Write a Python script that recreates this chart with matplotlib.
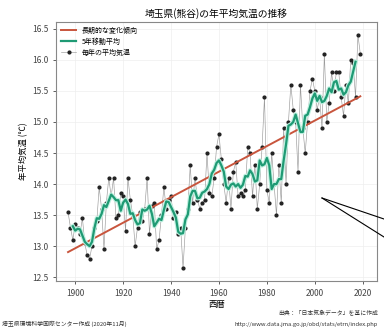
import matplotlib
matplotlib.use("Agg")
import matplotlib.pyplot as plt
from matplotlib.lines import Line2D
import numpy as np
import pandas as pd

plt.rcParams['font.family'] = ['Noto Sans CJK JP', 'DejaVu Sans']

# 熊谷の年平均気温 (1897-2019) 図から読み取り
years = np.arange(1897, 2020)
temps = [
    13.55, 13.30, 13.10,                                                      # 1897-1899
    13.35, 13.30, 13.20, 13.45, 13.05, 12.85, 12.80, 13.00, 13.30, 13.40,     # 1900s
    13.95, 13.60, 12.95, 13.70, 14.10, 13.80, 14.10, 13.45, 13.50, 13.85,     # 1910s
    13.80, 13.25, 14.10, 13.75, 13.50, 13.00, 13.30, 13.55, 13.40, 13.60,     # 1920s
    14.10, 13.20, 13.65, 13.70, 12.95, 13.10, 13.50, 13.95, 13.60, 13.75,     # 1930s
    13.80, 13.45, 13.55, 13.20, 13.30, 12.65, 13.30, 13.60, 14.30, 13.70,     # 1940s
    14.10, 13.75, 13.60, 13.70, 13.75, 14.50, 13.85, 13.80, 14.10, 14.60,     # 1950s
    14.80, 14.40, 14.00, 13.70, 14.10, 13.60, 14.20, 14.35, 13.80, 13.85,     # 1960s
    13.80, 13.90, 14.60, 14.50, 13.80, 14.30, 13.60, 14.00, 14.60, 15.40,     # 1970s
    13.90, 13.70, 14.50, 14.00, 13.50, 14.30, 13.70, 14.90, 14.00, 15.00,     # 1980s
    15.60, 15.20, 15.00, 14.20, 15.60, 14.90, 14.50, 15.00, 15.50, 15.70,     # 1990s
    15.50, 15.20, 15.40, 14.90, 16.10, 15.00, 15.30, 15.80, 15.50, 15.80,     # 2000s
    15.80, 15.40, 15.10, 15.60, 15.30, 16.00, 15.95, 15.40, 16.40, 16.10,     # 2010s
]
xticks = [1900, 1920, 1940, 1960, 1980, 2000, 2020]
yticks = [12.5, 13.0, 13.5, 14.0, 14.5, 15.0, 15.5, 16.0, 16.5]

temps = np.array(temps)
ma5 = pd.Series(temps).rolling(5, center=True).mean()
coef = np.polyfit(years, temps, 1)
trend = np.polyval(coef, years)

fig = plt.figure(figsize=(3.84, 3.34), dpi=100)
ax = fig.add_axes([0.146, 0.159, 0.836, 0.775])

ax.plot(years, trend, color="#c8553d", lw=1.4, label="長期的な変化傾向", zorder=3)
ax.plot(years, ma5, color="#bff0e0", lw=3.2, zorder=4)
ax.plot(years, ma5, color="#1f9a74", lw=1.6, label="5年移動平均", zorder=5)
ax.plot(years, temps, color="#9a9a9a", lw=0.45, marker="o", ms=2.0,
        mfc="#222222", mec="#222222", label="毎年の平均気温", zorder=2)

ax.set_xlim(1892, 2026)
ax.set_ylim(12.44, 16.61)
ax.set_xticks(xticks)
ax.set_yticks(yticks)
ax.tick_params(labelsize=6, length=2, width=0.6, colors="#444444")
ax.grid(color="#eeeeee", lw=0.5)
for s in ax.spines.values():
    s.set_color("#888888")
    s.set_linewidth(0.8)

ax.set_title("埼玉県(熊谷)の年平均気温の推移", fontsize=7, pad=4)
ax.set_xlabel("西暦", fontsize=6, labelpad=2)
ax.set_ylabel("年平均気温 (℃)", fontsize=6, labelpad=3)
ax.legend(loc="upper left", fontsize=5, frameon=False, handlelength=2.2,
          borderaxespad=0.3, labelspacing=0.4)

fig.text(0.005, 0.025, "埼玉県環境科学国際センター作成 (2020年11月)", fontsize=4.2, color="#333333")
fig.text(0.985, 0.055, "出典：「日本気象データ」を基に作成", fontsize=4.2, ha="right", color="#333333")
fig.text(0.61, 0.025, "http://www.data.jma.go.jp/obd/stats/etrn/index.php", fontsize=4.2, color="#333333")

# 吹き出しの線
fig.add_artist(Line2D([322/384, 1.0], [1 - 198/334, 1 - 219/334], color="black", lw=0.8))
fig.add_artist(Line2D([322/384, 1.0], [1 - 198/334, 1 - 237/334], color="black", lw=0.8))

fig.savefig("out.png", dpi=100)
